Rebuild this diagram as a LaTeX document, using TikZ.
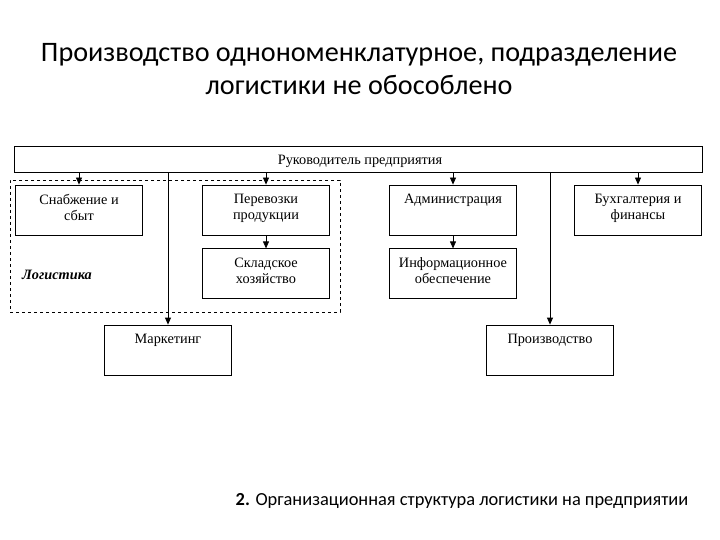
\documentclass[tikz,border=0pt]{standalone}
\usepackage{fontspec}
\setmainfont{Liberation Serif}
\newfontfamily\titlefont{Carlito}
\usetikzlibrary{arrows.meta,positioning}

\begin{document}
\begin{tikzpicture}[
    x = 1pt, y = -1pt, % pixel grid, y goes down
    > = {Triangle[length=7pt,width=6pt]}, % arrow head style
    node distance = 13pt, % gap between stacked boxes
    line width = 0.8pt % line style
    ]

    \tikzset{
    unit/.style = {
    draw = black,
    fill = white,
    minimum width = 127pt,
    minimum height = 50pt,
    inner sep = 0pt
    },
    lbl/.style = {
    anchor = north,
    align = center,
    inner sep = 4pt,
    yshift = -5pt,
    font = \fontsize{14.3}{16}\selectfont
    },
    group/.style = {
    draw = black,
    dashed,
    thin,
    minimum width = 330pt,
    minimum height = 132pt,
    inner sep = 0pt
    }
    }

    \useasboundingbox (0,0) rectangle (720,540);

    % title and caption
    \node[font = \titlefont\fontsize{28.2}{33}\selectfont, align = center] (title) at (359,69)
    {Производство однономенклатурное, подразделение\\логистики не обособлено};
    \node[font = \titlefont\fontsize{18.4}{22}\selectfont] (caption) at (462,501)
    {\textbf{2.} Организационная структура логистики на предприятии};

    % logistics frame
    \node[group] (logbox) at (175,246) {};
    \node[font = \fontsize{14.3}{16}\selectfont\bfseries\itshape] (logname) at (57,275) {Логистика};

    % head
    \node[draw = black, fill = white, minimum width = 688pt, minimum height = 26pt,
    font = \fontsize{14.3}{16}\selectfont] (boss) at (358,159) {};
    \node[font = \fontsize{14.3}{16}\selectfont] (bossname) at (360,161) {Руководитель предприятия};

    % first row
    \node[unit, label = {[lbl]north:Снабжение и\\сбыт}] (supply) at (79,210) {};
    \node[unit, label = {[lbl]north:Перевозки\\продукции}] (haul) at (266,210) {};
    \node[unit, label = {[lbl]north:Администрация}] (admin) at (453,210) {};
    \node[unit, label = {[lbl]north:Бухгалтерия и\\финансы}] (finance) at (638,210) {};

    % second row
    \node[unit, label = {[lbl]north:Складское\\хозяйство}] (store) [below=of haul] {};
    \node[unit, label = {[lbl]north:Информационное\\обеспечение}] (info) [below=of admin] {};

    % third row
    \node[unit, label = {[lbl]north:Маркетинг}] (market) at (168,350) {};
    \node[unit, label = {[lbl]north:Производство}] (prod) at (550,350) {};

    % links
    \draw[->] (boss.south -| supply.north) -- (supply.north);
    \draw[->] (boss.south -| haul.north) -- (haul.north);
    \draw[->] (boss.south -| admin.north) -- (admin.north);
    \draw[->] (boss.south -| finance.north) -- (finance.north);
    \draw[->] (haul) -- (store);
    \draw[->] (admin) -- (info);
    \draw[->] (boss.south -| market.north) -- (market.north);
    \draw[->] (boss.south -| prod.north) -- (prod.north);
\end{tikzpicture}
\end{document}
